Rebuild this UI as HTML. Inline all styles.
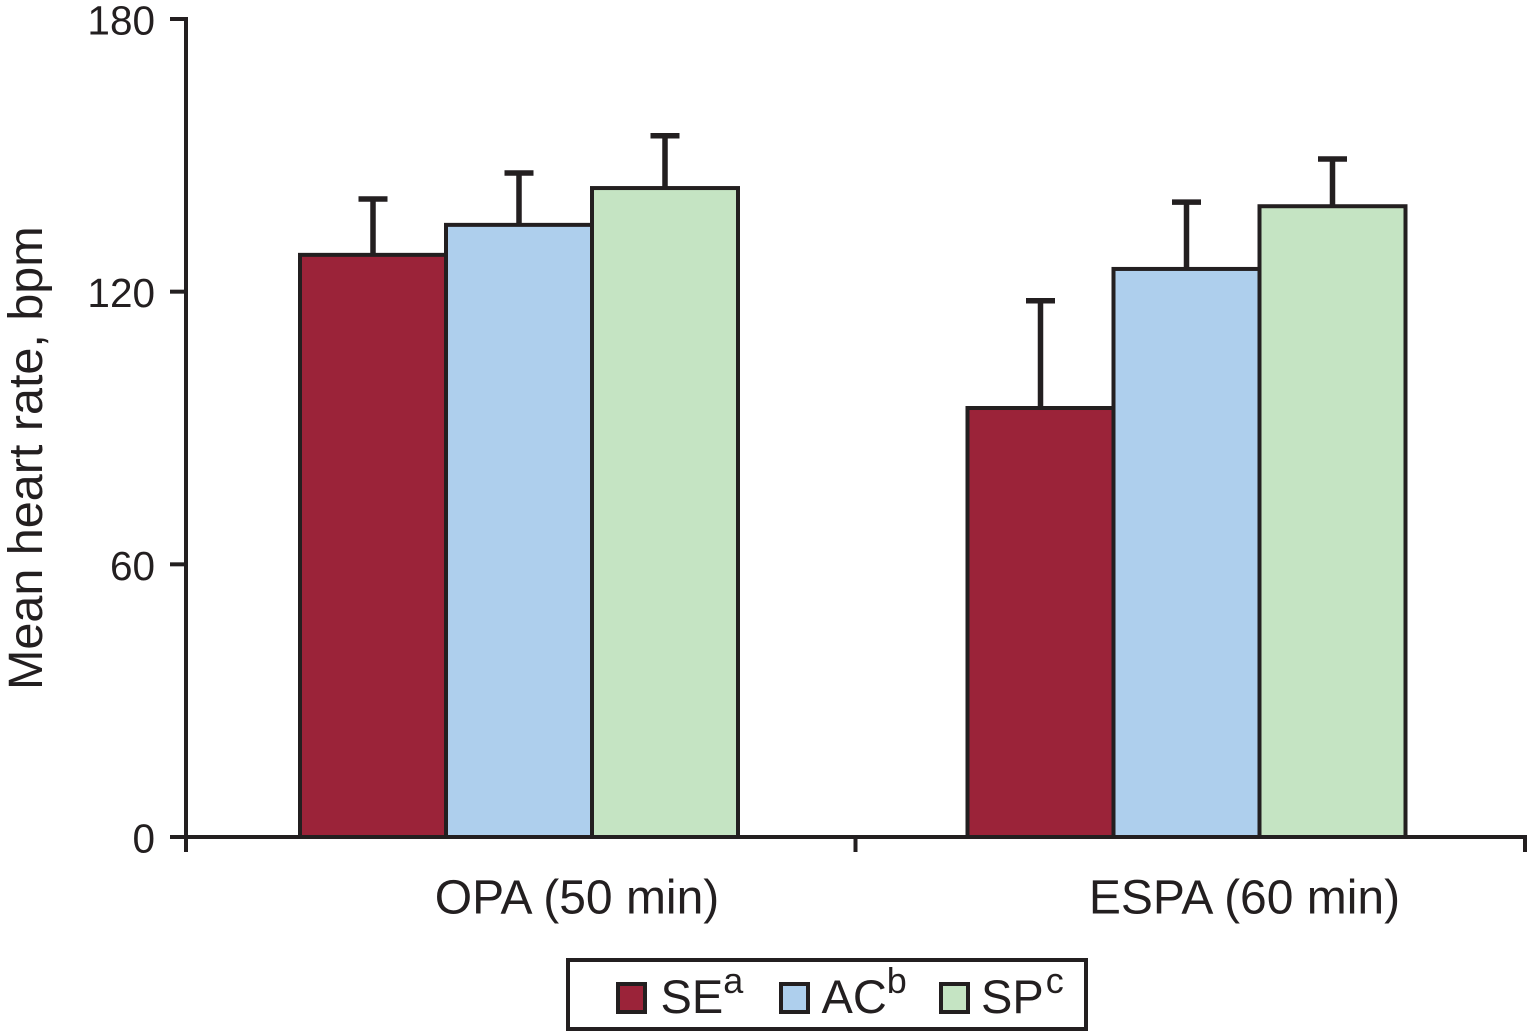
<!DOCTYPE html>
<html lang="en">
<head>
<meta charset="utf-8">
<title>Mean heart rate by condition</title>
<style>
html,body{margin:0;padding:0;background:#fff;}
svg{display:block;}
text{font-family:"Liberation Sans",Arial,sans-serif;fill:#231f20;}
</style>
</head>
<body>
<svg id="chart" xmlns="http://www.w3.org/2000/svg" width="1527" height="1031" viewBox="0 0 1527 1031">
  <rect x="0" y="0" width="1527" height="1031" fill="#ffffff"/>
  <g id="bars"></g>
  <g id="axes"></g>
  <text transform="translate(42,690) rotate(-90)" font-size="48.5">Mean heart rate, bpm</text>
  <g>
    <rect x="568" y="960" width="518" height="69" fill="#ffffff" stroke="#231f20" stroke-width="4"/>
    <rect x="618" y="984" width="27" height="28" fill="#9b2339" stroke="#231f20" stroke-width="4"/>
    <text x="660.5" y="1013" font-size="47">SE<tspan font-size="36" dy="-20">a</tspan></text>
    <rect x="781" y="984" width="27" height="28" fill="#aecfed" stroke="#231f20" stroke-width="4"/>
    <text x="821.5" y="1013" font-size="47">AC<tspan font-size="36" dy="-20">b</tspan></text>
    <rect x="941" y="984" width="27" height="28" fill="#c5e4c3" stroke="#231f20" stroke-width="4"/>
    <text x="981" y="1013" font-size="47">SP<tspan font-size="36" dy="-20" dx="2">c</tspan></text>
  </g>
</svg>
<script>
const categories = ["OPA (50 min)", "ESPA (60 min)"];
const seriesNames = ["SE", "AC", "SP"];
const seValues = [128.1, 94.4];
const acValues = [134.7, 125.0];
const spValues = [142.8, 138.8];
const seErrors = [12.3, 23.6];
const acErrors = [11.4, 14.7];
const spErrors = [11.5, 10.4];
const yTicks = [0, 60, 120, 180];

const seriesValues = [seValues, acValues, spValues];
const seriesErrors = [seErrors, acErrors, spErrors];
const seriesFills = ["#9b2339", "#aecfed", "#c5e4c3"];
const INK = "#231f20";
const NS = "http://www.w3.org/2000/svg";

const yBase = 837, yTop = 19, yMax = 180;
const xLeft = 186, xRight = 1525;
const groupStart = 519, groupStep = 667.5, barWidth = 146;

function yScale(v) { return yBase - (v / yMax) * (yBase - yTop); }
function groupCenter(i) { return groupStart + groupStep * i; }
function barLeft(g, s) { return groupCenter(g) + (s - seriesNames.length / 2) * barWidth; }

function make(tag, attrs, parent) {
  const el = document.createElementNS(NS, tag);
  for (const k in attrs) el.setAttribute(k, attrs[k]);
  parent.appendChild(el);
  return el;
}

const barsLayer = document.getElementById("bars");
const axesLayer = document.getElementById("axes");

categories.forEach(function (cat, g) {
  seriesNames.forEach(function (name, s) {
    const v = seriesValues[s][g];
    const top = yScale(v);
    const left = barLeft(g, s);
    const cx = left + barWidth / 2;
    const errTop = yScale(v + seriesErrors[s][g]);

    const stem = make("line", { x1: cx, x2: cx, y1: top, y2: errTop, stroke: INK, "stroke-width": 5.5 }, barsLayer);
    
    

    const cap = make("line", { x1: cx - 14.5, x2: cx + 14.5, y1: errTop, y2: errTop, stroke: INK, "stroke-width": 5.5 }, barsLayer);
    
    

    const bar = make("rect", { x: left, y: top, width: barWidth, height: yBase - top, fill: seriesFills[s], stroke: INK, "stroke-width": 4 }, barsLayer);
    
    
  });
});

const xAxisLine = make("line", { x1: xLeft - 16, x2: xRight + 2, y1: yBase, y2: yBase, stroke: INK, "stroke-width": 4 }, axesLayer);



const yAxisLine = make("line", { x1: xLeft, x2: xLeft, y1: yTop - 2, y2: yBase + 15, stroke: INK, "stroke-width": 4 }, axesLayer);



yTicks.forEach(function (t) {
  const y = yScale(t);
  const tick = make("line", { x1: xLeft - 16, x2: xLeft, y1: y, y2: y, stroke: INK, "stroke-width": 4 }, axesLayer);
  
  

  const label = make("text", { x: 155, y: y + 15.5, "text-anchor": "end", "font-size": 40.5 }, axesLayer);
  label.textContent = String(t);
  
  
});

categories.forEach(function (cat, g) {
  const tickX = xLeft + (xRight - xLeft) * (g + 1) / categories.length;
  const tick = make("line", { x1: tickX, x2: tickX, y1: yBase, y2: yBase + 15, stroke: INK, "stroke-width": 4 }, axesLayer);
  
  

  const label = make("text", { x: groupCenter(g) + 58, y: 913.5, "text-anchor": "middle", "font-size": 48 }, axesLayer);
  label.textContent = cat;
  
  
});
</script>
</body>
</html>
